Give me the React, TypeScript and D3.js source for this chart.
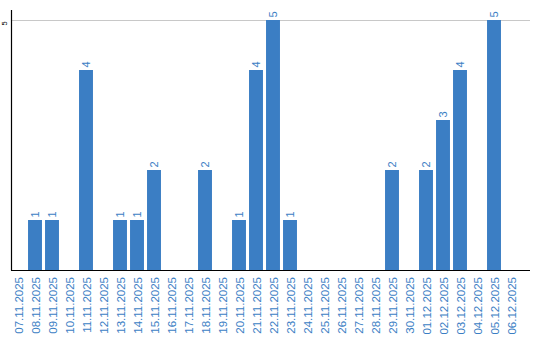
import React from "react";
import * as d3 from "d3";

const dates = [
  "07.11.2025","08.11.2025","09.11.2025","10.11.2025","11.11.2025","12.11.2025",
  "13.11.2025","14.11.2025","15.11.2025","16.11.2025","17.11.2025","18.11.2025",
  "19.11.2025","20.11.2025","21.11.2025","22.11.2025","23.11.2025","24.11.2025",
  "25.11.2025","26.11.2025","27.11.2025","28.11.2025","29.11.2025","30.11.2025",
  "01.12.2025","02.12.2025","03.12.2025","04.12.2025","05.12.2025","06.12.2025",
];
const counts = [
  0,1,1,0,4,0,
  1,1,2,0,0,2,
  0,1,4,5,1,0,
  0,0,0,0,2,0,
  2,3,4,0,5,0,
];
const yTicks = [5];

const W = 540, H = 340;
const BLUE = "#3b7ec4";
const FONT = "'Liberation Sans', Arial, sans-serif";

export default function App() {
  const x = d3.scaleBand<string>().domain(dates).range([9.5, 519.5]).paddingInner(0.18).paddingOuter(0.09);
  const y = d3.scaleLinear().domain([0, 5]).range([270, 20]);
  const axisX = 11;
  return (
    <svg width={W} height={H} style={{ position: "absolute", left: 0, top: 0 }}>
      {yTicks.map((t) => (
        <g key={t}>
          <line x1={axisX} x2={530} y1={y(t) + 0.5} y2={y(t) + 0.5} stroke="#c8c8c8" strokeWidth={1} />
          <text transform={`translate(6.5,${y(t) + 5.5}) rotate(-90)`} textAnchor="start" fontSize={7.5} fontFamily={FONT} fill="#000">{t}</text>
        </g>
      ))}
      {dates.map((d, i) => {
        const v = counts[i];
        const bx = x(d)!;
        const cx = bx + x.bandwidth() / 2;
        return (
          <g key={d}>
            {v > 0 && (
              <>
                <rect x={bx} y={y(v)} width={x.bandwidth()} height={y(0) - y(v)} fill={BLUE} />
                <text transform={`translate(${cx + 4},${y(v) - 2.5}) rotate(-90)`} textAnchor="start" fontSize={11} fontFamily={FONT} fill={BLUE}>{v}</text>
              </>
            )}
            <text transform={`translate(${cx + 4.5},277) rotate(-90)`} textAnchor="end" fontSize={11.5} fontFamily={FONT} fill={BLUE}>{d}</text>
          </g>
        );
      })}
      <line x1={axisX + 0.5} x2={axisX + 0.5} y1={10} y2={270.5} stroke="#000" strokeWidth={1.2} />
      <line x1={axisX} x2={530} y1={270.5} y2={270.5} stroke="#000" strokeWidth={1.2} />
    </svg>
  );
}
